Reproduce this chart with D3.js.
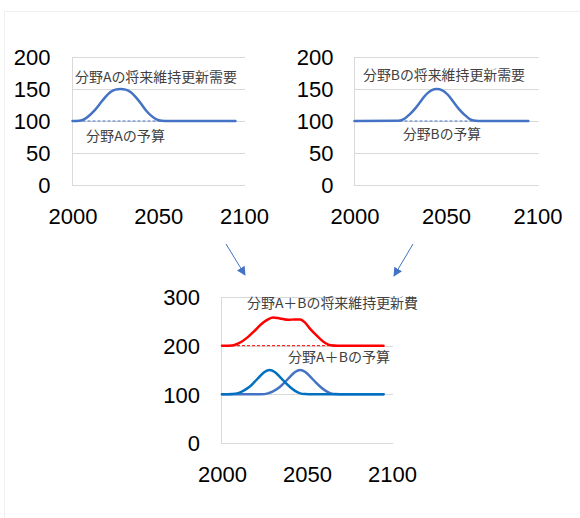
<!DOCTYPE html>
<html>
<head>
<meta charset="utf-8">
<script src="https://cdn.jsdelivr.net/npm/d3@7"></script>
<style>
  html, body { margin: 0; padding: 0; background: #fff; }
  svg { display: block; }
</style>
</head>
<body>
<svg id="chart" width="580" height="518"></svg>
<script>
// ---- data ----
const xTicks = [2000, 2050, 2100];
const yTicksField = [0, 50, 100, 150, 200];
const yTicksTotal = [0, 100, 200, 300];

// Field A: renewal demand
const yearsA  = [2000, 2004, 2007, 2010, 2013, 2016, 2019, 2022, 2025, 2028, 2031, 2034, 2037, 2040, 2043, 2046, 2049, 2052, 2056, 2095];
const demandA = [100, 100.5, 103, 109, 117, 127, 137, 145, 149, 150, 149, 145, 137, 127, 116, 108, 102.5, 100.5, 100, 100];

// Field B: renewal demand
const yearsB  = [2000, 2024, 2027, 2030, 2033, 2036, 2039, 2042, 2045, 2048, 2051, 2054, 2057, 2060, 2063, 2066, 2070, 2095];
const demandB = [100, 100.5, 103, 110, 119, 130, 141, 148, 150, 148, 141, 130, 119, 110, 103, 100.5, 100, 100];

// Budgets (flat)
const budgetYears = [2000, 2095];
const budgetA = [100, 100];
const budgetB = [100, 100];
const budgetAB = [200, 200];

// Combined panel: A and B drawn again, plus the A+B total
const yearsA2  = [2000, 2006, 2010, 2013, 2016, 2019, 2022, 2025, 2028, 2031, 2034, 2037, 2040, 2043, 2046, 2049, 2053, 2095];
const demandA2 = [100, 100.5, 103, 108, 115, 125, 136, 146, 150, 146, 136, 125, 115, 107, 102, 100.5, 100, 100];
const yearsB2  = [2000, 2023, 2027, 2030, 2034, 2037, 2040, 2043, 2046, 2049, 2052, 2055, 2058, 2061, 2064, 2067, 2071, 2095];
const demandB2 = [100, 100, 102, 106, 115, 125, 136, 146, 150, 146, 136, 125, 115, 107, 102, 100.5, 100, 100];
const yearsAB  = [2000, 2006, 2010, 2015, 2019, 2023, 2027, 2030, 2034, 2039, 2043, 2046, 2049, 2052, 2055, 2058, 2061, 2064, 2068, 2095];
const demandAB = [200, 200.5, 205, 217, 230, 244, 254, 258, 256, 253, 254, 254, 247, 234, 223, 213, 205, 201, 200, 200];

// ---- drawing ----
const svg = d3.select("#chart");
const tickFont = "'Liberation Sans', Arial, sans-serif";
const cjkFont = "'Noto Sans CJK JP', 'Noto Sans', sans-serif";

// faint outer frame
svg.append("rect")
  .attr("x", 4.5).attr("y", 11.5)
  .attr("width", 620).attr("height", 620)
  .attr("fill", "none").attr("stroke", "#efefef");

function zip(xs, ys) { return xs.map((x, i) => [x, ys[i]]); }

function panel(opt) {
  const g = svg.append("g");
  const x = d3.scaleLinear().domain([2000, 2100]).range([opt.x0, opt.x1]);
  const y = d3.scaleLinear().domain([0, opt.yMax]).range([opt.y0, opt.y1]);

  // gridlines
  g.selectAll("line.grid").data(opt.yTicks.filter(d => d > 0)).join("line")
    .attr("x1", opt.x0).attr("x2", opt.x1 + 1)
    .attr("y1", d => Math.round(y(d)) + 0.5).attr("y2", d => Math.round(y(d)) + 0.5)
    .attr("stroke", "#d9d9d9").attr("stroke-width", 1);

  // axis lines
  g.append("line")
    .attr("x1", opt.x0).attr("x2", opt.x1 + 1)
    .attr("y1", Math.round(y(0)) + 0.5).attr("y2", Math.round(y(0)) + 0.5)
    .attr("stroke", "#d9d9d9");
  g.append("line")
    .attr("x1", Math.round(opt.x0) - 0.5).attr("x2", Math.round(opt.x0) - 0.5)
    .attr("y1", y(opt.yMax)).attr("y2", y(0) + 1)
    .attr("stroke", "#d9d9d9");

  // tick labels via d3 axes (domain and tick marks hidden)
  const yAxis = d3.axisLeft(y).tickValues(opt.yTicks).tickSize(0).tickPadding(opt.yPad);
  g.append("g").attr("transform", `translate(${opt.x0},0)`).call(yAxis)
    .call(a => a.select(".domain").remove())
    .call(a => a.selectAll("text")
      .attr("font-family", tickFont).attr("font-size", 22).attr("fill", "#000")
      .attr("dy", "0.36em"));
  const xAxis = d3.axisBottom(x).tickValues(xTicks).tickFormat(d3.format("d")).tickSize(0).tickPadding(0);
  g.append("g").attr("transform", `translate(0,${opt.y0})`).call(xAxis)
    .call(a => a.select(".domain").remove())
    .call(a => a.selectAll("text")
      .attr("font-family", tickFont).attr("font-size", 22).attr("fill", "#000")
      .attr("dy", null).attr("y", 39));

  const line = d3.line().x(d => x(d[0])).y(d => y(d[1])).curve(d3.curveMonotoneX);

  // budgets (dashed)
  opt.budgets.forEach(b => {
    g.append("path").datum(zip(budgetYears, b.values))
      .attr("d", d3.line().x(d => x(d[0])).y(d => y(d[1])))
      .attr("fill", "none").attr("stroke", b.color)
      .attr("stroke-width", 1).attr("stroke-dasharray", "3,2");
  });

  // demand series
  opt.series.forEach(s => {
    g.append("path").datum(zip(s.years, s.values))
      .attr("d", line)
      .attr("fill", "none").attr("stroke", s.color)
      .attr("stroke-width", 2.5).attr("stroke-linejoin", "round").attr("stroke-linecap", "round");
  });

  // annotations
  opt.labels.forEach(l => {
    g.append("text")
      .attr("x", l.x).attr("y", l.y)
      .attr("dy", "0.35em")
      .attr("font-family", cjkFont).attr("font-size", 13.5).attr("fill", "#404040")
      .attr("textLength", l.w).attr("lengthAdjust", "spacingAndGlyphs")
      .text(l.text);
  });
}

panel({
  x0: 72.5, x1: 244, y0: 185, y1: 57, yMax: 200, yTicks: yTicksField, yPad: 22,
  budgets: [{ values: budgetA, color: "#4472C4" }],
  series: [{ years: yearsA, values: demandA, color: "#4472C4" }],
  labels: [
    { text: "分野Aの将来維持更新需要", x: 75, y: 77, w: 162 },
    { text: "分野Aの予算", x: 86, y: 136.5, w: 79 }
  ]
});

panel({
  x0: 354.5, x1: 537.5, y0: 185, y1: 57, yMax: 200, yTicks: yTicksField, yPad: 21,
  budgets: [{ values: budgetB, color: "#4472C4" }],
  series: [{ years: yearsB, values: demandB, color: "#4472C4" }],
  labels: [
    { text: "分野Bの将来維持更新需要", x: 363, y: 75, w: 162 },
    { text: "分野Bの予算", x: 403, y: 134.5, w: 78 }
  ]
});

panel({
  x0: 222, x1: 392, y0: 443, y1: 297, yMax: 300, yTicks: yTicksTotal, yPad: 22,
  budgets: [{ values: budgetAB, color: "#FF0000" }],
  series: [
    { years: yearsB2, values: demandB2, color: "#4472C4" },
    { years: yearsA2, values: demandA2, color: "#0070C0" },
    { years: yearsAB, values: demandAB, color: "#FF0000" }
  ],
  labels: [
    { text: "分野A＋Bの将来維持更新費", x: 247, y: 303, w: 171 },
    { text: "分野A＋Bの予算", x: 288, y: 357, w: 102 }
  ]
});

// arrows leading from the field panels into the combined panel
const defs = svg.append("defs");
defs.append("marker")
  .attr("id", "arrowhead").attr("viewBox", "0 0 10 10")
  .attr("refX", 9).attr("refY", 5)
  .attr("markerWidth", 9).attr("markerHeight", 9)
  .attr("markerUnits", "userSpaceOnUse")
  .attr("orient", "auto")
  .append("path").attr("d", "M0,0 L10,5 L0,10 Z").attr("fill", "#4472C4");

const arrows = [
  { x1: 226, y1: 244, x2: 245, y2: 275 },
  { x1: 413, y1: 244, x2: 394, y2: 276 }
];
svg.selectAll("line.arrow").data(arrows).join("line")
  .attr("class", "arrow")
  .attr("x1", d => d.x1).attr("y1", d => d.y1)
  .attr("x2", d => d.x2).attr("y2", d => d.y2)
  .attr("stroke", "#4472C4").attr("stroke-width", 1)
  .attr("marker-end", "url(#arrowhead)");
</script>
</body>
</html>
